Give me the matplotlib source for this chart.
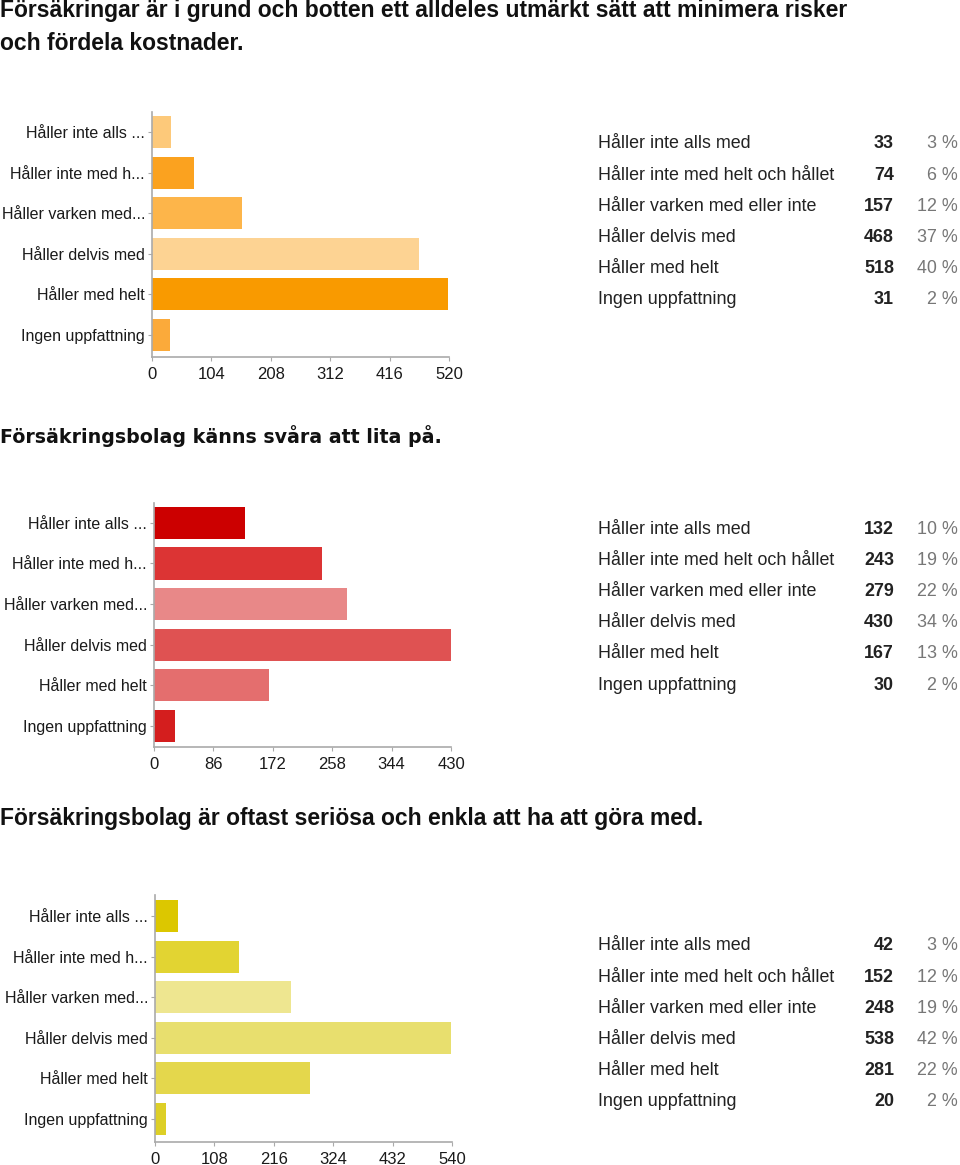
import matplotlib
matplotlib.use("Agg")
import matplotlib.pyplot as plt
from matplotlib import font_manager

# survey answers (short labels on the axis, full labels in the table)
labels_short = ["Håller inte alls ...", "Håller inte med h...", "Håller varken med...",
                "Håller delvis med", "Håller med helt", "Ingen uppfattning"]
labels_full = ["Håller inte alls med", "Håller inte med helt och hållet",
               "Håller varken med eller inte", "Håller delvis med",
               "Håller med helt", "Ingen uppfattning"]

title1 = "Försäkringar är i grund och botten ett alldeles utmärkt sätt att minimera risker\noch fördela kostnader."
counts1 = [33, 74, 157, 468, 518, 31]
pct1 = [3, 6, 12, 37, 40, 2]
ticks1 = [0, 104, 208, 312, 416, 520]
colors1 = ["#FDC97A", "#FBA21F", "#FDB54A", "#FDD393", "#F99A00", "#FBAA3A"]

title2 = "Försäkringsbolag känns svåra att lita på."
counts2 = [132, 243, 279, 430, 167, 30]
pct2 = [10, 19, 22, 34, 13, 2]
ticks2 = [0, 86, 172, 258, 344, 430]
colors2 = ["#CC0000", "#DC3434", "#E88888", "#DF5252", "#E46E6E", "#D41E1E"]

title3 = "Försäkringsbolag är oftast seriösa och enkla att ha att göra med."
counts3 = [42, 152, 248, 538, 281, 20]
pct3 = [3, 12, 19, 42, 22, 2]
ticks3 = [0, 108, 216, 324, 432, 540]
colors3 = ["#DCC700", "#E2D432", "#EEE690", "#E8DF6E", "#E4D74C", "#DDCF26"]

W, H = 960, 1165
installed = {f.name for f in font_manager.fontManager.ttflist}
narrow = "Liberation Sans Narrow" if "Liberation Sans Narrow" in installed else None
plt.rcParams["font.family"] = ["Liberation Sans", "DejaVu Sans"]

fig = plt.figure(figsize=(W / 100, H / 100), dpi=100)


def px_axes(left, right, top, bottom):
    return fig.add_axes([left / W, (H - bottom) / H, (right - left) / W, (bottom - top) / H])


def draw_panel(counts, pct, ticks, colors, box, ylim, table_y):
    ax = px_axes(*box)
    ax.barh(range(len(counts)), counts, height=0.79, color=colors)
    ax.set_xlim(0, ticks[-1])
    ax.set_ylim(*ylim)
    ax.set_xticks(ticks)
    ax.set_yticks(range(len(labels_short)))
    ax.set_yticklabels(labels_short)
    for s in ("top", "right"):
        ax.spines[s].set_visible(False)
    for s in ("left", "bottom"):
        ax.spines[s].set_color("#aaaaaa")
        ax.spines[s].set_linewidth(1.2)
    ax.tick_params(axis="y", length=3, color="#aaaaaa", pad=2, labelsize=11.5, labelcolor="#1a1a1a")
    ax.tick_params(axis="x", length=3, color="#aaaaaa", pad=4, labelsize=12, labelcolor="#1a1a1a")

    # table on the right
    for i, (lab, c, p) in enumerate(zip(labels_full, counts, pct)):
        y = 1 - (table_y + i * 31.2) / H
        fig.text(598 / W, y, lab, fontsize=12.9, color="#222222", va="center", ha="left")
        fig.text(894 / W, y, str(c), fontsize=12.9, color="#222222", weight="bold", va="center", ha="right")
        fig.text(958 / W, y, f"{p} %", fontsize=12.9, color="#777777", va="center", ha="right")


draw_panel(counts1, pct1, ticks1, colors1, (152, 449, 112, 357), (5.55, -0.5), 144)
draw_panel(counts2, pct2, ticks2, colors2, (154, 451, 503, 747), (5.52, -0.49), 529)
draw_panel(counts3, pct3, ticks3, colors3, (155, 452, 895, 1142), (5.57, -0.52), 946)

cond = dict(family=[narrow, "Liberation Sans"] if narrow else ["Liberation Sans"],
            weight="bold", fontsize=19 if narrow else 16.5, color="#111111")
fig.text(0.0, 1 - 27 / H, title1, va="center", ha="left", linespacing=1.55, **cond)
fig.text(0.0, 1 - 436 / H, title2, va="center", ha="left", family="DejaVu Sans",
         weight="bold", fontsize=13.7, color="#111111")
fig.text(0.0, 1 - 818 / H, title3, va="center", ha="left", **cond)

fig.savefig("out.png", dpi=100)
